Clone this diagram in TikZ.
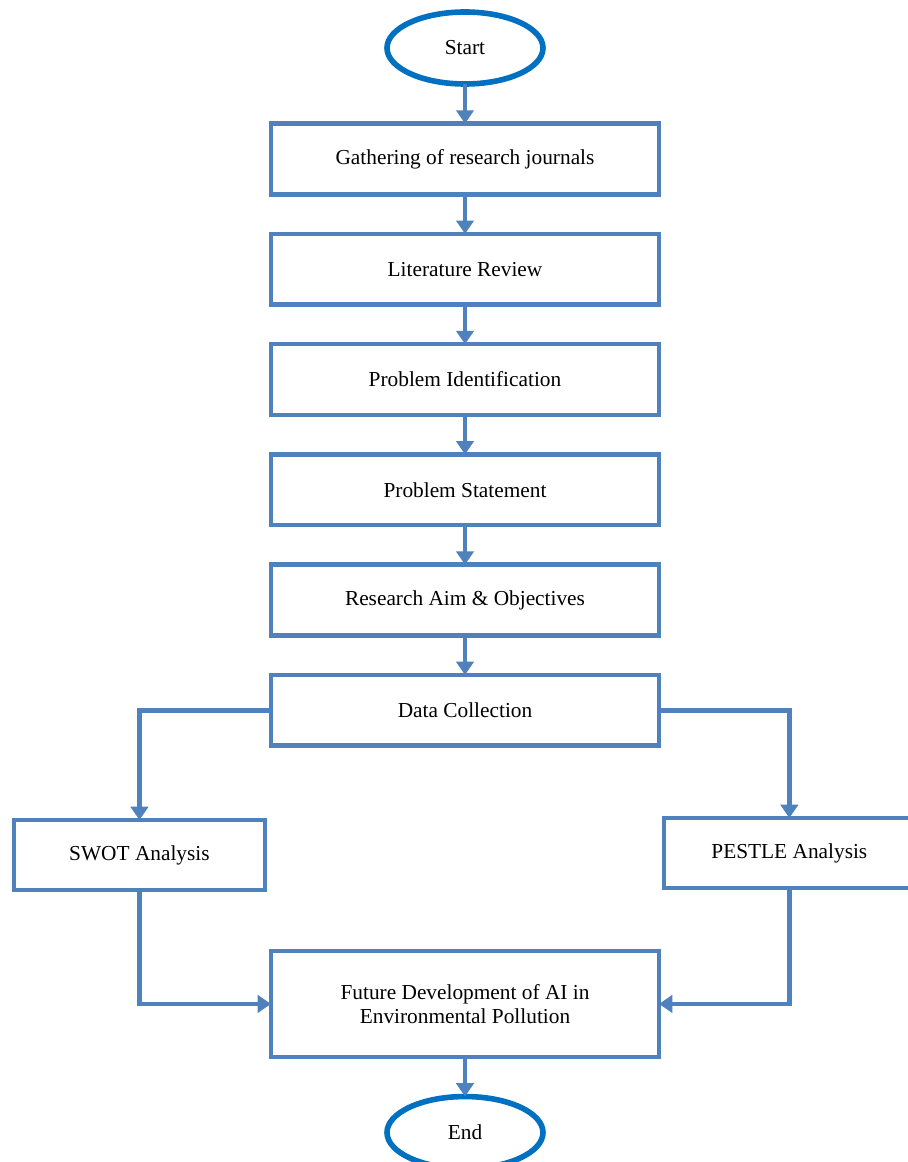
\documentclass[tikz,border=0pt]{standalone}
\usepackage{fontspec}
\setmainfont{Liberation Serif}
\usetikzlibrary{arrows.meta,positioning,shapes.geometric}
\definecolor{BoxBlue}{HTML}{4F81BD}
\definecolor{OvalBlue}{HTML}{0070C0}
\tikzset{
  stepbox/.style={draw=BoxBlue, line width=3.4pt, fill=white, minimum width=291pt, minimum height=53pt, outer sep=0pt, align=center, font=\fontsize{16pt}{18pt}\selectfont},
  sidebox/.style={stepbox, minimum width=188pt, minimum height=52.5pt},
  terminal/.style={ellipse, draw=OvalBlue, line width=4.2pt, fill=white, minimum width=117pt, minimum height=54pt, outer sep=0pt, font=\fontsize{16pt}{18pt}\selectfont},
  flow/.style={draw=BoxBlue, line width=3.4pt, -{Triangle[width=13pt,length=10pt]}}
}

\begin{document}
\begin{tikzpicture}[node distance=29.7pt]
    \useasboundingbox (0,0) rectangle (680.25pt,-871.5pt);
    % main chain
    \node[terminal] (start) at (348.75pt,-36pt) {Start};
    \node[stepbox, below=of start] (gather) {Gathering of research journals};
    \node[stepbox, below=of gather] (review) {Literature Review};
    \node[stepbox, below=of review] (ident) {Problem Identification};
    \node[stepbox, below=of ident] (statement) {Problem Statement};
    \node[stepbox, below=of statement] (aim) {Research Aim \& Objectives};
    \node[stepbox, below=of aim] (data) {Data Collection};
    % the two analyses
    \node[sidebox] (swot) at (104.6pt,-641.25pt) {SWOT Analysis};
    \node[sidebox] (pestle) at (592pt,-639.75pt) {PESTLE Analysis};
    \node[stepbox, minimum height=79.5pt, below=154pt of data] (future) {Future Development of AI in\\Environmental Pollution};
    \node[terminal, below=of future] (end) {End};

    \draw[flow] (start) -- (gather);
    \draw[flow] (gather) -- (review);
    \draw[flow] (review) -- (ident);
    \draw[flow] (ident) -- (statement);
    \draw[flow] (statement) -- (aim);
    \draw[flow] (aim) -- (data);
    \draw[flow] (data.west) -| (swot.north);
    \draw[flow] (data.east) -| (pestle.north);
    \draw[flow] (swot.south) |- (future.west);
    \draw[flow] (pestle.south) |- (future.east);
    \draw[flow] (future) -- (end);
  \end{tikzpicture}
\end{document}
